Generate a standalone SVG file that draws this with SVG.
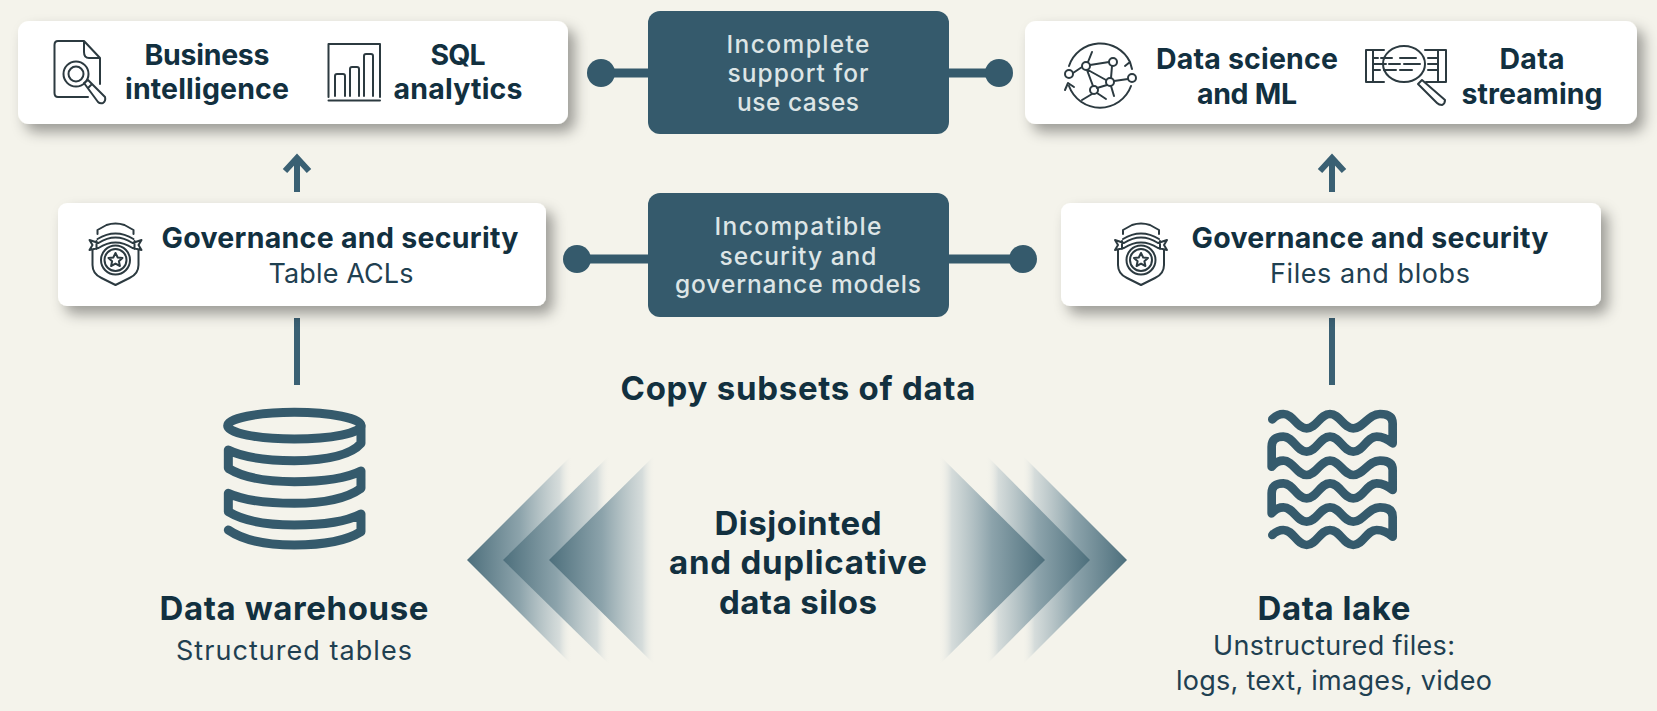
<svg xmlns="http://www.w3.org/2000/svg" xmlns:xlink="http://www.w3.org/1999/xlink" width="1657" height="711" viewBox="0 0 1657 711">
<style>
text{font-family:"Inter","Liberation Sans",sans-serif;text-anchor:middle;fill:#12303f}
.b{font-weight:700;font-size:28.500px}
.r{font-weight:400;font-size:27px;fill:#1f4051}
.c{font-weight:500;font-size:24.500px;fill:#dde5e6}
.h{font-weight:700;font-size:33px}
.card{fill:#fff;filter:url(#sh)}
.dark{fill:#355a6c}
.conn{stroke:#3a6073;stroke-width:6;fill:none;stroke-linecap:butt}
.link{stroke:#355a6c;stroke-width:9;fill:none}
.dot{fill:#355a6c}
.ic{fill:none;stroke:#2c3a40;stroke-width:2;stroke-linecap:round;stroke-linejoin:round}
.big{fill:none;stroke:#355a6c;stroke-linecap:round;stroke-linejoin:round}
</style>
<defs>
<filter id="sh" x="-10%" y="-20%" width="120%" height="160%"><feDropShadow dx="7" dy="8" stdDeviation="7" flood-color="#000" flood-opacity=".36"/></filter>
<linearGradient id="gl" x1="0" x2="1" y1="0" y2="0"><stop offset="0" stop-color="#4d6f7c"/><stop offset=".5" stop-color="#8ca3ab"/><stop offset=".88" stop-color="#d0d8d8" stop-opacity=".85"/><stop offset="1" stop-color="#f4f3eb" stop-opacity="0"/></linearGradient>
<linearGradient id="gr" x1="1" x2="0" y1="0" y2="0"><stop offset="0" stop-color="#4d6f7c"/><stop offset=".5" stop-color="#8ca3ab"/><stop offset=".88" stop-color="#d0d8d8" stop-opacity=".85"/><stop offset="1" stop-color="#f4f3eb" stop-opacity="0"/></linearGradient>
<g id="badge" class="ic">
<path d="M-18,-24 L-18,-28 L-9,-33 Q0,-36 9,-33 L18,-28 V-24 M-18,-19 Q0,-30 18,-19 M-19,-17 V-9 M19,-17 V-9 M-26,-18 L-17,-15 Q0,-26 17,-15 L26,-18 L23,-13 L26,-8 L17,-10 Q0,-21 -17,-10 L-26,-8 L-23,-13 Z"/>
<path d="M-23,-8 V7 Q-23,16 -14,20 L0,27 L14,20 Q23,16 23,7 V-8"/>
<circle cx="0" cy="2" r="14.500"/><circle cx="0" cy="2" r="11"/>
<path d="M0,-5 L2.200,-0.500 L7,0 L3.400,3.300 L4.400,8 L0,5.600 L-4.400,8 L-3.400,3.300 L-7,0 L-2.200,-0.500 Z"/>
</g>
</defs>
<rect width="1657" height="711" fill="#f4f3eb"/>

<g id="connectors">
<path class="conn" d="M297,192 V158 M285,171 L297,158 L309,171"/>
<path class="conn" d="M1332,192 V158 M1320,171 L1332,158 L1344,171"/>
<path class="conn" d="M297,318 V385"/>
<path class="conn" d="M1332,318 V385"/>
<path class="link" d="M601,73 H648 M949,73 H999 M577,259 H648 M949,259 H1023"/>
<circle class="dot" cx="601" cy="73" r="14"/><circle class="dot" cx="999" cy="73" r="14"/>
<circle class="dot" cx="577" cy="259" r="14"/><circle class="dot" cx="1023" cy="259" r="14"/>
</g>

<g id="chevrons-left">
<path fill="url(#gl)" d="M467,560 L572,455 V665 Z"/>
<path fill="url(#gl)" d="M503,560 L610,455 V665 Z"/>
<path fill="url(#gl)" d="M549,560 L655,455 V665 Z"/>
</g>
<g id="chevrons-right">
<path fill="url(#gr)" d="M1127,560 L1022,455 V665 Z"/>
<path fill="url(#gr)" d="M1090,560 L986,455 V665 Z"/>
<path fill="url(#gr)" d="M1045,560 L939,455 V665 Z"/>
</g>

<g id="node-bi">
<rect class="card" x="18" y="21" width="550" height="103" rx="11"/>
<g class="ic">
<path d="M84,41 H58 Q54.500,41 54.500,45 V93 Q54.500,97 58,97 H88 M100,58 V84 M84,41 L100,58 H89 Q84,58 84,52 Z"/>
<circle cx="76" cy="74" r="12.500"/><circle cx="76" cy="74" r="7.500"/>
<path d="M84,83 L88,80 L105,97 Q106,101 103,103 Q100,104 98,102 Z M88,88 L92,84"/>
</g>
<g class="ic">
<path d="M328.500,97 V44 H380 V97 M328.500,100.500 H380"/>
<path d="M335,96 V76 Q335,74 337,74 H343 Q345,74 345,76 V96 M350,96 V69 Q350,67 352,67 H357 Q359,67 359,69 V96 M364,96 V56 Q364,54 366,54 H371 Q373,54 373,56 V96"/>
</g>
<text class="b" x="207" y="65" textLength="125">Business</text>
<text class="b" x="207" y="99" textLength="164">intelligence</text>
<text class="b" x="458" y="65" textLength="55">SQL</text>
<text class="b" x="458" y="99" textLength="129">analytics</text>
</g>

<g id="node-ds">
<rect class="card" x="1025" y="21" width="612" height="103" rx="11"/>
<g class="ic">
<path d="M1069,66 A33,33 0 0 1 1130,62 M1132,69 L1130,62 L1125,66"/>
<path d="M1131,86 A33,33 0 0 1 1069,86 M1065,90 L1068,83 L1074,87"/>
<circle cx="1069" cy="74" r="4"/><circle cx="1086" cy="66" r="4"/><circle cx="1113" cy="62" r="4"/><circle cx="1110" cy="82" r="4"/><circle cx="1132" cy="78" r="4"/><circle cx="1094" cy="90" r="4"/>
<path d="M1073,73 L1082,67 M1090,65 L1109,62 M1088,70 L1106,80 M1087,70 L1093,86 M1112,66 L1111,78 M1107,85 L1097,88 M1114,81 L1128,79 M1092,94 L1082,100 M1097,93 L1106,99 M1111,86 L1114,96 M1088,62 L1092,52"/>
</g>
<g class="ic">
<path d="M1384,50 H1366 V82 H1384 M1373,50 V82 M1425,50 H1446 V82 H1426 M1438,50 V82"/>
<ellipse cx="1404" cy="64" rx="21" ry="18"/>
<path d="M1374,58 H1378 M1381,58 H1392 M1374,64 H1386 M1389,64 H1400 M1374,70 H1380 M1384,70 H1396 M1400,58 H1416 M1404,64 H1420 M1400,70 H1412 M1428,58 H1437 M1428,64 H1437 M1428,70 H1437"/>
<path d="M1418,84 L1422,80 L1445,100 Q1445,104 1442,105 Q1439,105 1437,103 Z"/>
</g>
<text class="b" x="1247" y="69" textLength="182">Data science</text>
<text class="b" x="1247" y="104" textLength="100">and ML</text>
<text class="b" x="1532" y="69" textLength="65">Data</text>
<text class="b" x="1532" y="104" textLength="141">streaming</text>
</g>

<g id="node-usecases">
<rect class="dark" x="648" y="11" width="301" height="123" rx="12"/>
<text class="c" x="798" y="53" textLength="143">Incomplete</text>
<text class="c" x="798" y="82" textLength="141">support for</text>
<text class="c" x="798" y="111" textLength="122">use cases</text>
</g>

<g id="node-gov-left">
<rect class="card" x="58" y="203" width="488" height="103" rx="9"/>
<use xlink:href="#badge" href="#badge" x="115.500" y="258"/>
<text class="b" x="340" y="248" textLength="357">Governance and security</text>
<text class="r" x="341" y="283" textLength="145">Table ACLs</text>
</g>

<g id="node-models">
<rect class="dark" x="648" y="193" width="301" height="124" rx="12"/>
<text class="c" x="798" y="235" textLength="167">Incompatible</text>
<text class="c" x="798" y="265" textLength="157">security and</text>
<text class="c" x="798" y="293" textLength="246">governance models</text>
</g>

<g id="node-gov-right">
<rect class="card" x="1061" y="203" width="540" height="103" rx="9"/>
<use xlink:href="#badge" href="#badge" x="1141" y="258"/>
<text class="b" x="1370" y="248" textLength="357">Governance and security</text>
<text class="r" x="1370" y="283" textLength="200">Files and blobs</text>
</g>

<g id="label-copy"><text class="h" x="798" y="400" textLength="355">Copy subsets of data</text></g>

<g id="label-silos">
<text class="h" x="798" y="535" textLength="167">Disjointed</text>
<text class="h" x="798" y="574" textLength="258">and duplicative</text>
<text class="h" x="798" y="614" textLength="158">data silos</text>
</g>

<g id="node-warehouse">
<g transform="translate(200,390) scale(.3333)" class="big" style="stroke-width:27">
<ellipse cx="283" cy="107" rx="200" ry="40"/>
<path d="M483,107 V160 Q440,210 283,212 Q150,212 85,180 V235 Q150,275 283,275 Q420,275 483,243 V295 Q420,340 283,340 Q150,340 85,310 V365 Q150,405 283,405 Q420,405 483,372 V425 Q420,465 283,465 Q150,465 85,420"/>
</g>
<text class="h" x="294" y="620" textLength="269">Data warehouse</text>
<text class="r" x="294" y="660" textLength="236">Structured tables</text>
</g>

<g id="node-lake">
<g transform="translate(1240,390) scale(.3333)" class="big" style="stroke-width:26">
<path d="M97,88 Q112,72 130,72 C160,72 170,115 200,115 C230,115 240,72 270,72 C300,72 310,115 340,115 C370,115 385,72 420,72 Q458,72 458,100 V160 Q435,140 410,140 C380,140 370,185 340,185 C310,185 300,140 270,140 C240,140 230,185 200,185 C170,185 160,140 130,140 Q95,140 95,170 V230 Q110,212 130,212 C160,212 170,255 200,255 C230,255 240,212 270,212 C300,212 310,255 340,255 C370,255 385,212 420,212 Q458,212 458,240 V300 Q435,280 410,280 C380,280 370,325 340,325 C310,325 300,280 270,280 C240,280 230,325 200,325 C170,325 160,280 130,280 Q95,280 95,310 V370 Q110,352 130,352 C160,352 170,395 200,395 C230,395 240,352 270,352 C300,352 310,395 340,395 C370,395 385,352 420,352 Q458,352 458,380 V440 Q435,420 410,420 C380,420 370,465 340,465 C310,465 300,420 270,420 C240,420 230,465 200,465 C170,465 160,420 130,420 Q112,420 97,435"/>
</g>
<text class="h" x="1334" y="620" textLength="153">Data lake</text>
<text class="r" x="1334" y="655" textLength="242">Unstructured files:</text>
<text class="r" x="1334" y="690" textLength="316">logs, text, images, video</text>
</g>
</svg>
